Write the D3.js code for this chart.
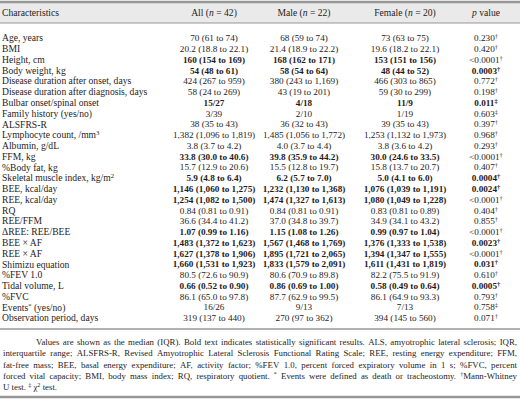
<!DOCTYPE html>
<html>
<head>
<meta charset="utf-8">
<script src="https://cdn.jsdelivr.net/npm/d3@7"></script>
<style>
  body { margin: 0; background: #fff; }
  svg text { font-family: "Liberation Serif", "DejaVu Serif", serif; fill: #1f1b1c; }
</style>
</head>
<body>
<svg id="table" width="520" height="404"></svg>
<script>
// table contents
const column_headers = ["Characteristics", "All (_n_ = 42)", "Male (_n_ = 22)", "Female (_n_ = 20)", "_p_ value"];

const characteristics = [
  "Age, years", "BMI", "Height, cm", "Body weight, kg",
  "Disease duration after onset, days", "Disease duration after diagnosis, days",
  "Bulbar onset/spinal onset", "Family history (yes/no)", "ALSFRS-R",
  "Lymphocyte count, /mm{3}", "Albumin, g/dL", "FFM, kg", "%Body fat, kg",
  "Skeletal muscle index, kg/m{2}", "BEE, kcal/day", "REE, kcal/day", "RQ",
  "REE/FFM", "ΔREE: REE/BEE", "BEE × AF", "REE × AF", "Shimizu equation",
  "%FEV 1.0", "Tidal volume, L", "%FVC", "Events{*} (yes/no)", "Observation period, days"
];

const all_values = [
  "70 (61 to 74)", "20.2 (18.8 to 22.1)", "160 (154 to 169)", "54 (48 to 61)",
  "424 (267 to 959)", "58 (24 to 269)", "15/27", "3/39", "38 (35 to 43)",
  "1,382 (1,096 to 1,819)", "3.8 (3.7 to 4.2)", "33.8 (30.0 to 40.6)", "15.7 (12.9 to 20.6)",
  "5.9 (4.8 to 6.4)", "1,146 (1,060 to 1,275)", "1,254 (1,082 to 1,500)", "0.84 (0.81 to 0.91)",
  "36.6 (34.4 to 41.2)", "1.07 (0.99 to 1.16)", "1,483 (1,372 to 1,623)", "1,627 (1,378 to 1,906)",
  "1,660 (1,531 to 1,923)", "80.5 (72.6 to 90.9)", "0.66 (0.52 to 0.90)", "86.1 (65.0 to 97.8)",
  "16/26", "319 (137 to 440)"
];

const male_values = [
  "68 (59 to 74)", "21.4 (18.9 to 22.2)", "168 (162 to 171)", "58 (54 to 64)",
  "380 (243 to 1,169)", "43 (19 to 201)", "4/18", "2/10", "36 (32 to 43)",
  "1,485 (1,056 to 1,772)", "4.0 (3.7 to 4.4)", "39.8 (35.9 to 44.2)", "15.5 (12.8 to 19.7)",
  "6.2 (5.7 to 7.0)", "1,232 (1,130 to 1,368)", "1,474 (1,327 to 1,613)", "0.84 (0.81 to 0.91)",
  "37.0 (34.8 to 39.7)", "1.15 (1.08 to 1.26)", "1,567 (1,468 to 1,769)", "1,895 (1,721 to 2,065)",
  "1,833 (1,579 to 2,091)", "80.6 (70.9 to 89.8)", "0.86 (0.69 to 1.00)", "87.7 (62.9 to 99.5)",
  "9/13", "270 (97 to 362)"
];

const female_values = [
  "73 (63 to 75)", "19.6 (18.2 to 22.1)", "153 (151 to 156)", "48 (44 to 52)",
  "466 (303 to 865)", "59 (30 to 299)", "11/9", "1/19", "39 (35 to 43)",
  "1,253 (1,132 to 1,973)", "3.8 (3.6 to 4.2)", "30.0 (24.6 to 33.5)", "15.8 (13.7 to 20.7)",
  "5.0 (4.1 to 6.0)", "1,076 (1,039 to 1,191)", "1,080 (1,049 to 1,228)", "0.83 (0.81 to 0.89)",
  "34.9 (34.1 to 43.2)", "0.99 (0.97 to 1.04)", "1,376 (1,333 to 1,538)", "1,394 (1,347 to 1,555)",
  "1,611 (1,431 to 1,819)", "82.2 (75.5 to 91.9)", "0.58 (0.49 to 0.64)", "86.1 (64.9 to 93.3)",
  "7/13", "394 (145 to 560)"
];

const p_values = [
  "0.230{†}", "0.420{†}", "<0.0001{†}", "0.0003{†}", "0.772{†}", "0.198{†}", "0.011{‡}",
  "0.603{‡}", "0.397{†}", "0.968{†}", "0.293{†}", "<0.0001{†}", "0.407{†}", "0.0004{†}",
  "0.0024{†}", "<0.0001{†}", "0.404{†}", "0.855{†}", "<0.0001{†}", "0.0023{†}", "<0.0001{†}",
  "0.031{†}", "0.610{†}", "0.0005{†}", "0.793{†}", "0.758{‡}", "0.071{†}"
];

// significant rows (bold in the value columns) and bold p values
const bold_rows = [2, 3, 6, 11, 13, 14, 15, 18, 19, 20, 21, 23];
const bold_p_rows = [3, 6, 13, 14, 19, 21, 23];

const footnote_lines = [
  "Values are shown as the median (IQR). Bold text indicates statistically significant results. ALS, amyotrophic lateral sclerosis; IQR,",
  "interquartile range; ALSFRS-R, Revised Amyotrophic Lateral Sclerosis Functional Rating Scale; REE, resting energy expenditure; FFM,",
  "fat-free mass; BEE, basal energy expenditure; AF, activity factor; %FEV 1.0, percent forced expiratory volume in 1 s; %FVC, percent",
  "forced vital capacity; BMI, body mass index; RQ, respiratory quotient. {*} Events were defined as death or tracheostomy. {†}Mann-Whitney",
  "U test. {‡} χ{2} test."
];

const svg = d3.select("svg#table");
const width = +svg.attr("width");
const rule_color = "#979797";
const label_size = 9.6;
const value_size = 9.2;
const note_size = 8.8;

// writes a string with {superscript} and _italic_ parts into a text element
function rich_text(text, str) {
  const parts = str.split(/(\{[^}]*\}|_[^_]*_)/).filter(s => s.length > 0);
  let raised = false;
  parts.forEach(p => {
    const t = text.append("tspan");
    if (p[0] === "{") {
      t.text(p.slice(1, -1)).attr("font-size", "0.7em").attr("dy", -3);
      raised = true;
    } else {
      if (raised) { t.attr("dy", 3); raised = false; }
      if (p[0] === "_") t.text(p.slice(1, -1)).attr("font-style", "italic");
      else t.text(p);
    }
  });
}

// header band
svg.append("rect")
  .attr("x", 0).attr("y", 3).attr("width", width).attr("height", 20)
  .attr("fill", "#eaeaea");
svg.append("line")
  .attr("x1", 0).attr("x2", width).attr("y1", 2).attr("y2", 2)
  .attr("stroke", rule_color).attr("stroke-width", 2.5);
svg.append("line")
  .attr("x1", 0).attr("x2", width).attr("y1", 23).attr("y2", 23)
  .attr("stroke", rule_color).attr("stroke-width", 1);

const col_keys = ["label", "all", "male", "female", "p"];
const col_x = d3.scaleOrdinal(col_keys, [2, 214, 304, 405, 486]);
const anchor = k => (k === "label" ? "start" : "middle");

svg.append("g").attr("class", "header")
  .selectAll("text")
  .data(col_keys)
  .join("text")
  .attr("x", d => col_x(d))
  .attr("y", 13 + label_size * 0.35)
  .attr("text-anchor", anchor)
  .attr("font-size", label_size)
  .each(function (d, i) { rich_text(d3.select(this), column_headers[i]); });

// body rows
const row_y = d3.scalePoint(d3.range(characteristics.length), [38, 318]);
const rows = characteristics.map((c, i) => ({
  i: i,
  label: c,
  all: all_values[i],
  male: male_values[i],
  female: female_values[i],
  p: p_values[i]
}));

const row_groups = svg.append("g").attr("class", "body")
  .selectAll("g.row")
  .data(rows)
  .join("g")
  .attr("class", "row")
  .attr("transform", d => `translate(0, ${row_y(d.i)})`);

row_groups.selectAll("text")
  .data(d => col_keys.map(k => ({ key: k, value: d[k], row: d.i })))
  .join("text")
  .attr("x", d => col_x(d.key))
  .attr("y", d => (d.key === "label" ? label_size : value_size) * 0.35)
  .attr("text-anchor", d => anchor(d.key))
  .attr("font-size", d => (d.key === "label" ? label_size : value_size))
  .attr("font-weight", d => {
    if (d.key === "label") return "normal";
    if (d.key === "p") return bold_p_rows.includes(d.row) ? "bold" : "normal";
    return bold_rows.includes(d.row) ? "bold" : "normal";
  })
  .each(function (d) { rich_text(d3.select(this), d.value); });

// rules below the body and below the footnote
svg.append("line")
  .attr("x1", 0).attr("x2", width).attr("y1", 329).attr("y2", 329)
  .attr("stroke", rule_color).attr("stroke-width", 1.5);
svg.append("line")
  .attr("x1", 0).attr("x2", width).attr("y1", 397).attr("y2", 397)
  .attr("stroke", rule_color).attr("stroke-width", 2.5);

// justified footnote
const note_y = d3.scalePoint(d3.range(footnote_lines.length), [342, 387]);
footnote_lines.forEach((line, li) => {
  const words = line.split(" ");
  const g = svg.append("g").attr("class", "note");
  const texts = g.selectAll("text")
    .data(words)
    .join("text")
    .attr("y", note_y(li) + note_size * 0.35)
    .attr("font-size", note_size)
    .each(function (w) { rich_text(d3.select(this), w); });
  const widths = [];
  texts.each(function () { widths.push(this.getComputedTextLength()); });
  const left = li === 0 ? 36 : 3;
  const right = 517;
  const last = li === footnote_lines.length - 1;
  let gap = last
    ? note_size * 0.25
    : (right - left - d3.sum(widths)) / (words.length - 1);
  // keep words apart if a line runs long
  if (gap < 1.2) {
    const squeeze = (right - left - 1.2 * (words.length - 1)) / d3.sum(widths);
    texts.attr("textLength", (d, i) => widths[i] * squeeze).attr("lengthAdjust", "spacingAndGlyphs");
    widths.forEach((w, i) => { widths[i] = w * squeeze; });
    gap = 1.2;
  }
  let x = left;
  texts.attr("x", (d, i) => {
    const here = x;
    x += widths[i] + gap;
    return here;
  });
});
</script>
</body>
</html>
